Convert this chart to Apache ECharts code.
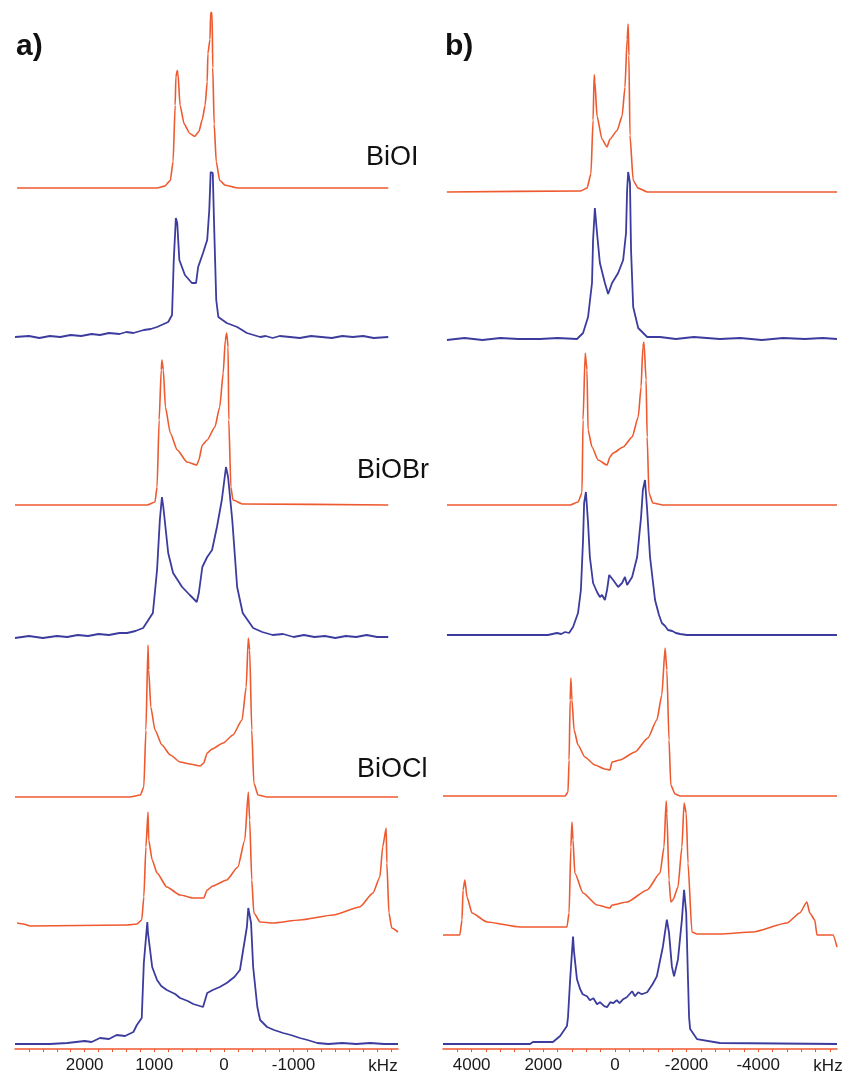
<!DOCTYPE html>
<html>
<head>
<meta charset="utf-8">
<script src="https://cdn.jsdelivr.net/npm/echarts@6/dist/echarts.min.js"></script>
<style>
  html, body { margin: 0; padding: 0; background: #fff; }
  #chart { width: 845px; height: 1074px; }
</style>
</head>
<body>
<div id="chart"></div>
<script>
// spectra: [frequency kHz, intensity]
// panel a)
const biOI_a_sim = [[2970,0],[960,0],[850,2],[770,8],[730,28],[700,88],[690,118],[670,125],[660,122],[630,88],[570,68],[490,58],[420,55],[360,60],[310,73],[270,88],[240,113],[230,143],[200,158],[190,187],[170,186],[160,128],[140,68],[110,28],[60,8],[-20,3],[-190,0],[-2360,0]];
const biOI_a_exp = [[3000,0],[2800,1],[2650,-1],[2500,1],[2350,0],[2200,2],[2050,1],[1900,3],[1780,2],[1650,4],[1500,3],[1400,5],[1300,4],[1150,7],[1050,8],[960,10],[800,15],[745,22],[720,77],[690,119],[670,114],[640,77],[560,62],[460,54],[400,54],[370,70],[300,84],[240,97],[210,127],[190,165],[160,164],[140,110],[110,37],[80,20],[-40,14],[-190,10],[-330,4],[-520,0],[-600,1],[-700,-1],[-800,1],[-950,0],[-1090,-1],[-1250,1],[-1400,0],[-1550,-1],[-1700,1],[-1850,0],[-2000,1],[-2150,-1],[-2360,0]];
const biOBr_a_sim = [[3000,0],[1100,0],[990,3],[960,18],[930,85],[900,135],[890,145],[870,135],[840,98],[770,72],[670,55],[530,43],[390,40],[360,45],[310,60],[240,65],[130,78],[60,98],[10,132],[-20,165],[-40,172],[-60,158],[-70,85],[-100,18],[-130,5],[-270,1],[-2360,0]];
const biOBr_a_exp = [[3000,-1],[2800,1],[2600,-1],[2400,1],[2250,0],[2100,2],[1950,1],[1800,3],[1650,2],[1500,4],[1390,4],[1270,6],[1160,9],[1020,24],[960,67],[920,117],[890,140],[870,130],[800,84],[730,64],[600,50],[490,42],[390,35],[360,44],[310,70],[240,80],[170,87],[100,110],[30,137],[-30,170],[-60,160],[-120,117],[-190,50],[-270,24],[-420,9],[-550,5],[-700,2],[-850,3],[-1000,0],[-1150,2],[-1300,0],[-1450,1],[-1600,-1],[-1750,1],[-1900,0],[-2050,2],[-2200,0],[-2360,0]];
const biOCl_a_sim = [[3000,0],[1350,0],[1200,2],[1150,10],[1120,67],[1090,152],[1080,127],[1050,90],[990,67],[890,52],[770,42],[630,35],[490,33],[340,31],[290,34],[240,44],[170,48],[10,54],[-130,62],[-260,77],[-320,110],[-350,159],[-370,147],[-400,67],[-430,14],[-490,2],[-620,0],[-2500,0]];
const biOCl_a_sim2 = [[2970,2],[2880,1],[2780,-1],[1390,0],[1250,1],[1180,5],[1150,28],[1120,78],[1090,113],[1080,85],[1030,65],[960,52],[820,38],[630,30],[440,27],[290,27],[240,35],[160,39],[-40,45],[-200,58],[-300,85],[-350,133],[-370,105],[-400,45],[-430,12],[-520,3],[-700,2],[-1090,5],[-1570,10],[-1950,18],[-2140,32],[-2240,48],[-2280,78],[-2330,97],[-2340,62],[-2370,12],[-2410,-3],[-2500,-7]];
const biOCl_a_exp = [[3000,0],[2500,0],[2250,1],[2000,3],[1900,2],[1780,6],[1650,5],[1540,9],[1420,8],[1300,12],[1250,19],[1180,26],[1150,81],[1100,122],[1090,111],[1030,77],[960,64],[900,58],[820,54],[700,50],[630,46],[520,43],[440,40],[300,37],[240,51],[160,54],[60,57],[-40,61],[-150,67],[-230,74],[-330,117],[-350,136],[-390,121],[-420,77],[-480,37],[-520,24],[-620,17],[-720,14],[-850,11],[-960,9],[-1090,6],[-1200,4],[-1340,1],[-1500,0],[-1700,1],[-1900,0],[-2100,1],[-2300,0],[-2500,0]];

// panel b)
const biOI_b_sim = [[4690,0],[970,1],[780,4],[670,19],[610,75],[580,122],[560,115],[500,79],[360,55],[220,47],[140,55],[-60,64],[-200,79],[-280,109],[-340,159],[-370,175],[-390,142],[-420,59],[-510,12],[-650,4],[-900,0],[-6200,0]];
const biOI_b_exp = [[4690,-1],[4200,1],[3700,-1],[3200,1],[2700,0],[2090,0],[1600,1],[1060,0],[890,6],[750,22],[640,56],[610,99],[560,131],[500,106],[420,76],[280,56],[190,45],[80,56],[-90,66],[-230,79],[-310,106],[-340,149],[-370,167],[-420,156],[-450,89],[-510,32],[-650,11],[-900,2],[-1260,2],[-1700,0],[-2200,2],[-2930,0],[-3500,1],[-4100,-1],[-4700,1],[-5300,0],[-5800,1],[-6200,0]];
const biOBr_b_sim = [[4690,0],[1250,0],[1030,3],[920,12],[890,85],[830,152],[780,135],[750,75],[640,58],[470,45],[220,40],[140,48],[50,52],[-230,58],[-480,68],[-650,88],[-730,118],[-780,158],[-810,163],[-870,125],[-900,68],[-950,12],[-1060,2],[-1340,0],[-6200,0]];
const biOBr_b_exp = [[4690,0],[1870,0],[1620,2],[1500,1],[1390,3],[1280,2],[1170,8],[1030,22],[950,45],[890,95],[860,132],[810,143],[750,112],[700,78],[610,52],[500,43],[420,38],[360,40],[280,35],[220,45],[160,60],[50,55],[-90,48],[-200,52],[-280,58],[-340,50],[-480,58],[-620,78],[-730,118],[-780,145],[-840,155],[-900,125],[-980,78],[-1120,35],[-1230,20],[-1310,12],[-1400,9],[-1480,5],[-1600,4],[-1700,2],[-1820,1],[-2010,0],[-6200,0]];
const biOCl_b_sim = [[4800,0],[1390,0],[1310,4],[1280,36],[1250,96],[1230,118],[1200,96],[1140,66],[1030,51],[840,39],[560,31],[280,27],[140,26],[80,34],[-140,36],[-560,44],[-920,58],[-1170,76],[-1310,101],[-1400,148],[-1450,126],[-1510,56],[-1560,11],[-1680,2],[-1820,0],[-6200,0]];
const biOCl_b_sim2 = [[4800,0],[4330,0],[4270,15],[4240,45],[4190,55],[4130,38],[3990,22],[3570,13],[2650,8],[1340,8],[1280,22],[1230,88],[1200,113],[1170,95],[1120,62],[890,42],[500,30],[140,27],[80,30],[-340,33],[-900,45],[-1260,62],[-1370,88],[-1430,134],[-1450,122],[-1510,55],[-1560,33],[-1620,35],[-1760,48],[-1870,88],[-1930,132],[-1990,122],[-2040,72],[-2150,3],[-2290,1],[-2930,1],[-3850,3],[-4800,12],[-5160,22],[-5360,33],[-5440,22],[-5580,15],[-5640,0],[-6090,0],[-6200,-12]];
const biOCl_b_exp = [[4800,0],[2370,0],[2290,2],[1730,2],[1530,8],[1340,18],[1310,27],[1250,65],[1170,108],[1140,92],[1060,65],[970,55],[900,50],[780,48],[700,44],[600,46],[500,40],[420,42],[300,38],[220,37],[130,42],[50,41],[-50,44],[-130,41],[-230,45],[-330,47],[-480,53],[-560,48],[-650,52],[-750,50],[-900,52],[-1050,60],[-1170,68],[-1340,98],[-1450,125],[-1510,112],[-1590,78],[-1650,68],[-1760,85],[-1870,125],[-1930,155],[-1990,132],[-2040,65],[-2070,27],[-2100,15],[-2290,5],[-2930,1],[-6200,0]];

// axis ticks and labels
const ticksA = [2800,2600,2400,2200,2000,1800,1600,1400,1200,1000,800,600,400,200,0,-200,-400,-600,-800,-1000,-1200,-1400,-1600,-1800,-2000,-2200,-2400];
const labelsA = [2000, 1000, 0, -1000];
const ticksB = [4400,4000,3600,3200,2800,2400,2000,1600,1200,800,400,0,-400,-800,-1200,-1600,-2000,-2400,-2800,-3200,-3600,-4000,-4400,-4800,-5200,-5600,-6000];
const labelsB = [4000, 2000, 0, -2000, -4000];
const compounds = ['BiOI', 'BiOBr', 'BiOCl'];

const RED = '#ee5a30';
const BLUE = '#3c3c9e';
const FONT = '"Liberation Sans", Arial, sans-serif';

const panels = {
  a: { left: 15, width: 383, min: -2500, max: 3000, ticks: ticksA, labels: labelsA, unitX: 383 },
  b: { left: 443, width: 394, min: -6200, max: 4800, ticks: ticksB, labels: labelsB, unitX: 828 }
};

// each trace sits on its own baseline (pixel row)
const traces = [
  { data: biOI_a_sim, color: RED, panel: 'a', base: 188 },
  { data: biOI_a_exp, color: BLUE, panel: 'a', base: 337 },
  { data: biOBr_a_sim, color: RED, panel: 'a', base: 505 },
  { data: biOBr_a_exp, color: BLUE, panel: 'a', base: 637 },
  { data: biOCl_a_sim, color: RED, panel: 'a', base: 797 },
  { data: biOCl_a_sim2, color: RED, panel: 'a', base: 925 },
  { data: biOCl_a_exp, color: BLUE, panel: 'a', base: 1044, axis: true },
  { data: biOI_b_sim, color: RED, panel: 'b', base: 192 },
  { data: biOI_b_exp, color: BLUE, panel: 'b', base: 339 },
  { data: biOBr_b_sim, color: RED, panel: 'b', base: 505 },
  { data: biOBr_b_exp, color: BLUE, panel: 'b', base: 635 },
  { data: biOCl_b_sim, color: RED, panel: 'b', base: 796 },
  { data: biOCl_b_sim2, color: RED, panel: 'b', base: 935 },
  { data: biOCl_b_exp, color: BLUE, panel: 'b', base: 1045, axis: true }
];

const H = 200;
const grid = [], xAxis = [], yAxis = [], series = [];
traces.forEach((t, i) => {
  const p = panels[t.panel];
  grid.push({ left: p.left, width: p.width, top: t.base - H, height: H });
  xAxis.push({
    gridIndex: i, type: 'value', inverse: true, min: p.min, max: p.max,
    show: !!t.axis,
    offset: 5,
    splitLine: { show: false },
    axisLine: { show: true, onZero: false, lineStyle: { color: RED, width: 1.5 } },
    axisTick: { show: true, length: 3, customValues: p.ticks, lineStyle: { color: RED, width: 1 } },
    axisLabel: {
      customValues: p.labels, margin: 8, fontSize: 17, color: '#1a1a1a', fontFamily: FONT,
      formatter: v => String(v)
    }
  });
  yAxis.push({ gridIndex: i, type: 'value', min: 0, max: H, show: false });
  series.push({
    type: 'line', xAxisIndex: i, yAxisIndex: i, data: t.data,
    showSymbol: false, clip: false, silent: true,
    smooth: t.color === RED ? 0.2 : 0, smoothMonotone: 'x',
    lineStyle: { color: t.color, width: t.color === RED ? 1.6 : 1.8 },
    z: t.color === RED ? 3 : 2
  });
});

const textStyle = (text, x, y, size, weight) => ({
  type: 'text',
  style: { text: text, x: x, y: y, fontSize: size, fontWeight: weight, fontFamily: FONT, fill: '#111', verticalAlign: 'middle' }
});

const graphic = [
  textStyle('a)', 16, 47, 30, 'bold'),
  textStyle('b)', 445, 47, 30, 'bold'),
  textStyle(compounds[0], 366, 158, 27, 'normal'),
  textStyle(compounds[1], 357, 471, 27, 'normal'),
  textStyle(compounds[2], 357, 770, 27, 'normal'),
  { type: 'text', style: { text: 'kHz', x: panels.a.unitX, y: 1066, fontSize: 17, fontFamily: FONT, fill: '#1a1a1a', align: 'center', verticalAlign: 'middle' } },
  { type: 'text', style: { text: 'kHz', x: panels.b.unitX, y: 1066, fontSize: 17, fontFamily: FONT, fill: '#1a1a1a', align: 'center', verticalAlign: 'middle' } }
];

const chart = echarts.init(document.getElementById('chart'));
chart.setOption({
  animation: false,
  backgroundColor: '#fff',
  grid: grid,
  xAxis: xAxis,
  yAxis: yAxis,
  series: series,
  graphic: graphic
});
</script>
</body>
</html>
